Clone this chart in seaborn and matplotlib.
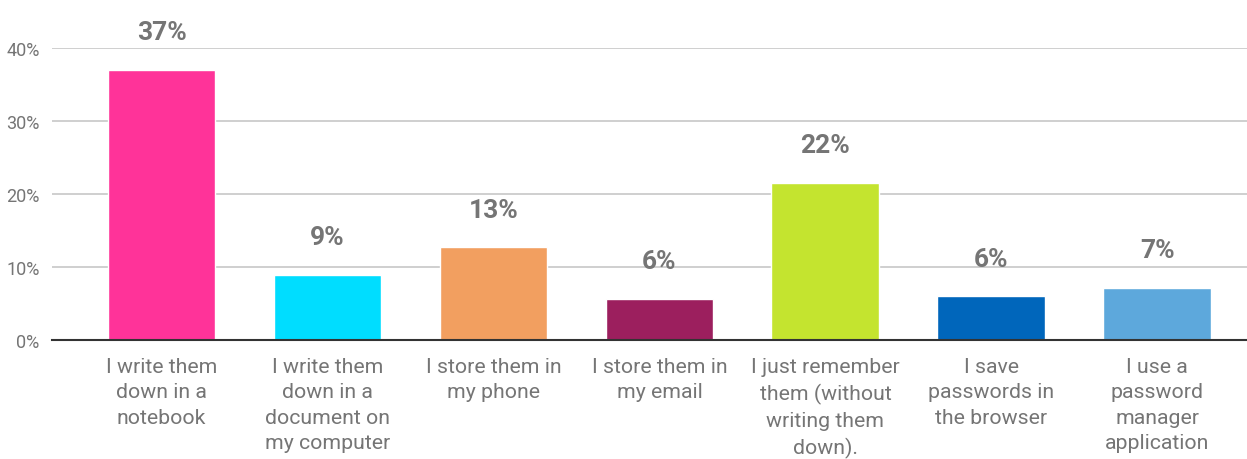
import matplotlib
matplotlib.use("Agg")
import matplotlib.pyplot as plt
import seaborn as sns
import pandas as pd
from matplotlib.ticker import FuncFormatter

categories = [
    "I write them\ndown in a\nnotebook",
    "I write them\ndown in a\ndocument on\nmy computer",
    "I store them in\nmy phone",
    "I store them in\nmy email",
    "I just remember\nthem (without\nwriting them\ndown).",
    "I save\npasswords in\nthe browser",
    "I use a\npassword\nmanager\napplication",
]
values = [37.0, 8.9, 12.7, 5.6, 21.5, 6.0, 7.1]
value_labels = ["37%", "9%", "13%", "6%", "22%", "6%", "7%"]
colors = ["#FF3399", "#00DDFF", "#F29F60", "#9C1F5E", "#C4E42F", "#0066BB", "#5DA8DC"]
yticks = [0, 10, 20, 30, 40]

sns.set_theme(style="white")
plt.rcParams["font.family"] = ["Roboto", "DejaVu Sans"]

df = pd.DataFrame({"cat": categories, "val": values})
fig = plt.figure(figsize=(12.47, 4.6), dpi=100)
ax = fig.add_axes([52 / 1247, 119 / 460, 1 - 52 / 1247, (341 - 49) / 460])

sns.barplot(data=df, x="cat", y="val", hue="cat", palette=colors, legend=False,
            width=0.65, saturation=1, ax=ax, zorder=3)

ax.set_ylim(0, 40)
ax.set_xlim(-0.66, 6.54)
ax.set_yticks(yticks)
ax.yaxis.set_major_formatter(FuncFormatter(lambda v, p: f"{int(v)}%"))
ax.grid(axis="y", color="#CCCCCC", linewidth=1.3, zorder=0)
ax.set_axisbelow(True)
for s in ["top", "right", "left"]:
    ax.spines[s].set_visible(False)
ax.spines["bottom"].set_color("#333333")
ax.spines["bottom"].set_linewidth(1.5)
ax.spines["bottom"].set_zorder(5)
ax.set_xlabel("")
ax.set_ylabel("")
ax.tick_params(axis="y", length=0, labelsize=13, labelcolor="#757575", pad=9)
ax.tick_params(axis="x", length=0, labelsize=15.3, labelcolor="#757575", pad=12)
for lbl in ax.get_xticklabels():
    lbl.set_linespacing(1.44)
    lbl.set_verticalalignment("top")

for i, (v, t) in enumerate(zip(values, value_labels)):
    ax.annotate(t, (i, v), xytext=(0, 18.5), textcoords="offset points",
                ha="center", va="bottom", fontsize=19, fontweight="bold",
                color="#757575", annotation_clip=False)

fig.savefig("out.png", dpi=100)
